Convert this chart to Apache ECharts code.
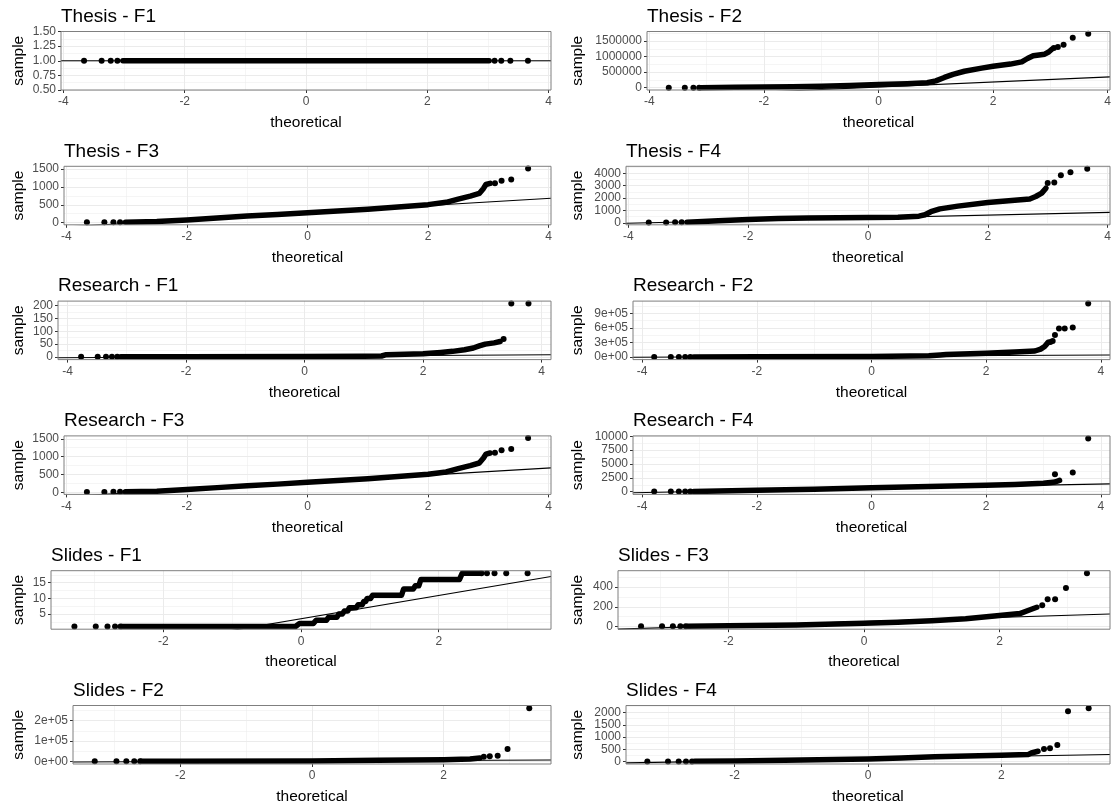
<!DOCTYPE html>
<html>
<head>
<meta charset="utf-8">
<title>QQ plots</title>
<script src="https://cdn.jsdelivr.net/npm/echarts@6.0.0/dist/echarts.min.js"></script>
<style>
  html, body { margin: 0; padding: 0; background: #fff; }
  #main { width: 1118px; height: 809px; }
</style>
</head>
<body>
<div id="main"></div>
<script>
// x ranges (ggplot expanded) and x ticks per group
var thesisXRange = [-4.04, 4.04];
var researchXRange = [-4.16, 4.16];
var slidesXRange = [-3.63, 3.63];
var wideXTicks = [-4, -2, 0, 2, 4];
var wideXLabels = ['-4', '-2', '0', '2', '4'];
var slidesXTicks = [-2, 0, 2];
var slidesXLabels = ['-2', '0', '2'];

// Thesis - F1
var tf1Body = [[-3.02, 1], [3.02, 1]];
var tf1Tail = [[-3.66, 1], [-3.37, 1], [-3.22, 1], [-3.11, 1], [3.11, 1], [3.22, 1], [3.37, 1], [3.66, 1]];
var tf1Line = [1, 0]; // intercept, slope
var tf1YRange = [0.5, 1.5];
var tf1YTicks = [0.5, 0.75, 1, 1.25, 1.5];
var tf1YLabels = ['0.50', '0.75', '1.00', '1.25', '1.50'];

// Thesis - F2
var tf2Body = [[-3.1, 0], [-2.5, 10000], [-2, 22000], [-1.5, 32000], [-1, 45000], [-0.5, 70000], [0, 100000],
  [0.5, 130000], [0.85, 160000], [1.0, 220000], [1.15, 330000], [1.3, 430000], [1.5, 530000], [1.8, 630000],
  [2.0, 690000], [2.3, 760000], [2.5, 830000], [2.6, 940000], [2.7, 1030000], [2.9, 1080000], [2.97, 1150000], [3.02, 1230000]];
var tf2Tail = [[-3.66, 0], [-3.38, 0], [-3.23, 0], [-3.13, 0], [3.06, 1280000], [3.13, 1310000], [3.23, 1380000], [3.39, 1610000], [3.66, 1740000]];
var tf2Line = [21000, 81000];
var tf2YRange = [-75000, 1810000];
var tf2YTicks = [0, 500000, 1000000, 1500000];
var tf2YLabels = ['0', '500000', '1000000', '1500000'];

// Thesis - F3
var tf3Body = [[-3.02, 12], [-2.5, 30], [-2, 75], [-1.5, 130], [-1, 185], [-0.5, 228], [0, 280], [0.5, 328], [1, 378],
  [1.5, 440], [2, 505], [2.3, 570], [2.5, 660], [2.7, 745], [2.85, 820], [2.92, 960], [2.96, 1070], [3.03, 1100]];
var tf3Tail = [[-3.66, 8], [-3.37, 10], [-3.22, 12], [-3.11, 12], [3.11, 1105], [3.22, 1175], [3.38, 1210], [3.66, 1520]];
var tf3Line = [280, 100];
var tf3YRange = [-60, 1580];
var tf3YTicks = [0, 500, 1000, 1500];
var tf3YLabels = ['0', '500', '1000', '1500'];

// Thesis - F4
var tf4Body = [[-3.02, 50], [-2.5, 160], [-2, 270], [-1.5, 340], [-1, 380], [-0.5, 405], [0, 430], [0.5, 460], [0.85, 540],
  [0.95, 650], [1.05, 900], [1.2, 1130], [1.5, 1350], [2, 1650], [2.5, 1840], [2.7, 1930], [2.8, 2130], [2.9, 2400], [2.97, 2800]];
var tf4Tail = [[-3.66, 20], [-3.37, 30], [-3.22, 40], [-3.11, 45], [3.0, 3210], [3.11, 3270], [3.22, 3840], [3.38, 4080], [3.66, 4380]];
var tf4Line = [405, 108];
var tf4YRange = [-160, 4570];
var tf4YTicks = [0, 1000, 2000, 3000, 4000];
var tf4YLabels = ['0', '1000', '2000', '3000', '4000'];

// Research - F1
var rf1Body = [[-3.1, 1], [-2, 1.5], [0, 2], [1, 3], [1.3, 4], [1.38, 9], [2, 13], [2.3, 18], [2.5, 22], [2.7, 28],
  [2.85, 35], [2.95, 43], [3.05, 50], [3.2, 55], [3.3, 60]];
var rf1Tail = [[-3.77, 1], [-3.49, 1], [-3.35, 1], [-3.25, 1], [-3.16, 1], [3.36, 70], [3.49, 208], [3.78, 208]];
var rf1Line = [3, 1.4];
var rf1YRange = [-10, 217];
var rf1YTicks = [0, 50, 100, 150, 200];
var rf1YLabels = ['0', '50', '100', '150', '200'];

// Research - F2
var rf2Body = [[-3.1, 1000], [-2, 4000], [0, 10000], [1, 22000], [1.2, 40000], [1.3, 50000], [2, 75000], [2.5, 100000],
  [2.85, 122000], [2.95, 160000], [3.02, 215000], [3.08, 300000]];
var rf2Tail = [[-3.79, 0], [-3.5, 0], [-3.36, 0], [-3.25, 0], [-3.16, 0], [3.12, 310000], [3.16, 330000], [3.2, 450000],
  [3.27, 585000], [3.37, 585000], [3.51, 605000], [3.78, 1100000]];
var rf2Line = [17000, 5700];
var rf2YRange = [-55000, 1150000];
var rf2YTicks = [0, 300000, 600000, 900000];
var rf2YLabels = ['0e+00', '3e+05', '6e+05', '9e+05'];

// Research - F3
var rf3Body = [[-3.02, 12], [-2.5, 30], [-2, 75], [-1.5, 130], [-1, 185], [-0.5, 228], [0, 280], [0.5, 328], [1, 378],
  [1.5, 440], [2, 505], [2.3, 570], [2.5, 660], [2.7, 745], [2.85, 820], [2.92, 960], [2.96, 1070], [3.03, 1100]];
var rf3Tail = [[-3.66, 8], [-3.37, 10], [-3.22, 12], [-3.11, 12], [3.11, 1105], [3.22, 1175], [3.38, 1210], [3.66, 1520]];
var rf3Line = [280, 100];
var rf3YRange = [-60, 1580];
var rf3YTicks = [0, 500, 1000, 1500];
var rf3YLabels = ['0', '500', '1000', '1500'];

// Research - F4
var rf4Body = [[-3.1, 60], [-2, 290], [-1, 470], [0, 700], [1, 940], [2, 1180], [2.5, 1300], [3, 1530], [3.2, 1760], [3.28, 2050]];
var rf4Tail = [[-3.79, 30], [-3.5, 40], [-3.36, 50], [-3.25, 50], [-3.16, 55], [3.2, 3150], [3.51, 3450], [3.78, 9590]];
var rf4Line = [617, 191];
var rf4YRange = [-480, 10070];
var rf4YTicks = [0, 2500, 5000, 7500, 10000];
var rf4YLabels = ['0', '2500', '5000', '7500', '10000'];

// Slides - F1 (integer steps)
var sf1Body = [[-2.6, 1], [-0.08, 1], [-0.02, 2], [0.18, 2], [0.22, 3], [0.37, 3], [0.4, 4], [0.52, 4], [0.55, 5], [0.6, 5],
  [0.63, 6], [0.68, 6], [0.7, 7], [0.8, 7], [0.83, 8], [0.89, 8], [0.91, 9], [0.94, 9], [0.96, 10], [1.01, 10], [1.04, 11],
  [1.46, 11], [1.49, 13], [1.63, 13], [1.66, 14], [1.71, 14], [1.74, 16], [2.3, 16], [2.34, 18], [2.6, 18]];
var sf1Tail = [[-3.29, 1], [-2.98, 1], [-2.81, 1], [-2.7, 1], [-2.62, 1], [2.62, 18], [2.7, 18], [2.81, 18], [2.98, 18], [3.29, 18]];
var sf1Line = [3.49, 3.72];
var sf1YRange = [0.15, 18.85];
var sf1YTicks = [5, 10, 15];
var sf1YLabels = ['5', '10', '15'];

// Slides - F3
var sf3Body = [[-2.6, 3], [-2, 7], [-1, 16], [0, 33], [0.5, 43], [1, 59], [1.5, 79], [2, 111], [2.3, 131], [2.45, 170], [2.55, 195]];
var sf3Tail = [[-3.29, 3], [-2.98, 3], [-2.82, 3], [-2.71, 3], [-2.63, 3], [2.63, 215], [2.71, 275], [2.82, 275], [2.98, 390], [3.29, 538]];
var sf3Line = [50, 21];
var sf3YRange = [-27, 565];
var sf3YTicks = [0, 200, 400];
var sf3YLabels = ['0', '200', '400'];

// Slides - F2
var sf2Body = [[-2.6, 200], [-2, 300], [0, 1600], [1, 5000], [2, 8000], [2.4, 11000], [2.55, 16000]];
var sf2Tail = [[-3.3, 0], [-2.97, 0], [-2.82, 0], [-2.7, 0], [-2.61, 0], [2.61, 22000], [2.7, 25000], [2.82, 27000], [2.97, 61000], [3.3, 260000]];
var sf2Line = [1700, 1300];
var sf2YRange = [-13000, 274000];
var sf2YTicks = [0, 100000, 200000];
var sf2YLabels = ['0e+00', '1e+05', '2e+05'];

// Slides - F4
var sf4Body = [[-2.6, 10], [-2, 27], [-1, 68], [0, 108], [0.5, 150], [1, 200], [1.5, 230], [2, 256], [2.4, 284], [2.45, 350], [2.55, 420]];
var sf4Tail = [[-3.31, 0], [-3.0, 0], [-2.84, 0], [-2.73, 0], [-2.64, 0], [2.64, 510], [2.73, 545], [2.84, 675], [3.0, 2050], [3.31, 2175]];
var sf4Line = [115, 47];
var sf4YRange = [-100, 2290];
var sf4YTicks = [0, 500, 1000, 1500, 2000];
var sf4YLabels = ['0', '500', '1000', '1500', '2000'];

var panels = [
  {title: 'Thesis - F1', body: tf1Body, tail: tf1Tail, line: tf1Line, xr: thesisXRange, xt: wideXTicks, xl: wideXLabels, yr: tf1YRange, yt: tf1YTicks, yl: tf1YLabels},
  {title: 'Thesis - F2', body: tf2Body, tail: tf2Tail, line: tf2Line, xr: thesisXRange, xt: wideXTicks, xl: wideXLabels, yr: tf2YRange, yt: tf2YTicks, yl: tf2YLabels},
  {title: 'Thesis - F3', body: tf3Body, tail: tf3Tail, line: tf3Line, xr: thesisXRange, xt: wideXTicks, xl: wideXLabels, yr: tf3YRange, yt: tf3YTicks, yl: tf3YLabels},
  {title: 'Thesis - F4', body: tf4Body, tail: tf4Tail, line: tf4Line, xr: thesisXRange, xt: wideXTicks, xl: wideXLabels, yr: tf4YRange, yt: tf4YTicks, yl: tf4YLabels},
  {title: 'Research - F1', body: rf1Body, tail: rf1Tail, line: rf1Line, xr: researchXRange, xt: wideXTicks, xl: wideXLabels, yr: rf1YRange, yt: rf1YTicks, yl: rf1YLabels},
  {title: 'Research - F2', body: rf2Body, tail: rf2Tail, line: rf2Line, xr: researchXRange, xt: wideXTicks, xl: wideXLabels, yr: rf2YRange, yt: rf2YTicks, yl: rf2YLabels},
  {title: 'Research - F3', body: rf3Body, tail: rf3Tail, line: rf3Line, xr: thesisXRange, xt: wideXTicks, xl: wideXLabels, yr: rf3YRange, yt: rf3YTicks, yl: rf3YLabels},
  {title: 'Research - F4', body: rf4Body, tail: rf4Tail, line: rf4Line, xr: researchXRange, xt: wideXTicks, xl: wideXLabels, yr: rf4YRange, yt: rf4YTicks, yl: rf4YLabels},
  {title: 'Slides - F1', body: sf1Body, tail: sf1Tail, line: sf1Line, xr: slidesXRange, xt: slidesXTicks, xl: slidesXLabels, yr: sf1YRange, yt: sf1YTicks, yl: sf1YLabels},
  {title: 'Slides - F3', body: sf3Body, tail: sf3Tail, line: sf3Line, xr: slidesXRange, xt: slidesXTicks, xl: slidesXLabels, yr: sf3YRange, yt: sf3YTicks, yl: sf3YLabels},
  {title: 'Slides - F2', body: sf2Body, tail: sf2Tail, line: sf2Line, xr: slidesXRange, xt: slidesXTicks, xl: slidesXLabels, yr: sf2YRange, yt: sf2YTicks, yl: sf2YLabels},
  {title: 'Slides - F4', body: sf4Body, tail: sf4Tail, line: sf4Line, xr: slidesXRange, xt: slidesXTicks, xl: slidesXLabels, yr: sf4YRange, yt: sf4YTicks, yl: sf4YLabels}
];

// panel left edges in px (depend on y label width), row-major
var panelLeft = [61, 647, 64, 626, 58, 633, 64, 633, 51, 618, 73, 626];
var colX = [0, 559];
var colRight = [551, 1110];
var ROW_H = 134.8;
var FONT = '"Liberation Sans", Arial, Helvetica, sans-serif';

var myChart = echarts.init(document.getElementById('main'));

function makeAxis(i, range, ticks, labels, name, gap, vertical) {
  var step = ticks[1] - ticks[0];
  return {
    gridIndex: i,
    type: 'value',
    min: range[0],
    max: range[1],
    minInterval: step,
    maxInterval: step,
    name: name,
    nameLocation: 'middle',
    nameGap: gap,
    nameRotate: vertical ? 90 : 0,
    nameTextStyle: {fontFamily: FONT, fontSize: 15.5, color: '#000'},
    axisLine: {show: false, onZero: false},
    axisTick: {show: true, length: 3, customValues: ticks, lineStyle: {color: '#333', width: 1}},
    axisLabel: {
      customValues: ticks,
      margin: vertical ? 5 : 6,
      fontFamily: FONT,
      fontSize: 12,
      color: '#4d4d4d',
      formatter: function (v) {
        for (var k = 0; k < ticks.length; k++) {
          if (Math.abs(ticks[k] - v) < Math.abs(step) * 1e-6) return labels[k];
        }
        return '';
      }
    },
    splitLine: {show: true, lineStyle: {color: '#ebebeb', width: 1}},
    minorTick: {show: false, splitNumber: 2},
    minorSplitLine: {show: true, lineStyle: {color: '#ebebeb', width: 0.5}}
  };
}

var option = {
  backgroundColor: '#fff',
  animation: false,
  title: [], grid: [], xAxis: [], yAxis: [], series: []
};

panels.forEach(function (p, i) {
  var col = i % 2;
  var rowTop = Math.floor(i / 2) * ROW_H;
  var left = panelLeft[i];
  var width = colRight[col] - left;

  option.title.push({
    text: p.title, left: left, top: rowTop + 5.5, padding: 0,
    textStyle: {fontFamily: FONT, fontSize: 19, fontWeight: 'normal', color: '#000', lineHeight: 22}
  });
  option.grid.push({
    left: left, top: rowTop + 31.5, width: width, height: 58.5,
    show: true, z: 5, borderColor: '#7f7f7f', borderWidth: 1, backgroundColor: 'rgba(0,0,0,0)'
  });
  option.xAxis.push(makeAxis(i, p.xr, p.xt, p.xl, 'theoretical', 25, false));
  option.yAxis.push(makeAxis(i, p.yr, p.yt, p.yl, 'sample', left - colX[col] - 27, true));

  // dense run of points drawn as a thick round-capped stroke
  option.series.push({
    type: 'line', xAxisIndex: i, yAxisIndex: i, data: p.body,
    showSymbol: false, silent: true, z: 2,
    lineStyle: {color: '#000', width: 5.5, opacity: 1, cap: 'round', join: 'round'}
  });
  option.series.push({
    type: 'scatter', xAxisIndex: i, yAxisIndex: i, data: p.tail,
    symbolSize: 6, silent: true, z: 2,
    itemStyle: {color: '#000', opacity: 1}
  });
  // qq reference line across the panel
  var a = p.line[0], b = p.line[1];
  option.series.push({
    type: 'line', xAxisIndex: i, yAxisIndex: i,
    data: [[p.xr[0], a + b * p.xr[0]], [p.xr[1], a + b * p.xr[1]]],
    showSymbol: false, silent: true, clip: true, z: 3,
    lineStyle: {color: '#000', width: 1.1, opacity: 1}
  });
});

myChart.setOption(option);
</script>
</body>
</html>
